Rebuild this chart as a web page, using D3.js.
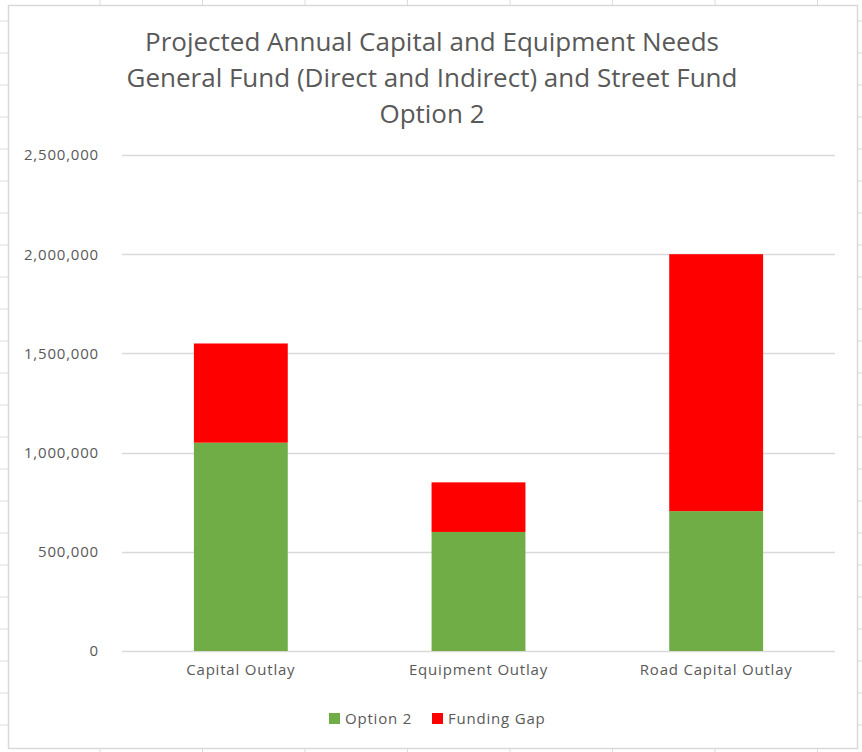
<!DOCTYPE html>
<html>
<head>
<meta charset="utf-8">
<script src="https://cdn.jsdelivr.net/npm/d3@7"></script>
<style>
  html, body { margin: 0; padding: 0; background: #fff; }
  svg { display: block; }
  text { font-family: "Open Sans", "Liberation Sans", sans-serif; fill: #595959; }
</style>
</head>
<body>
<svg id="chart" width="862" height="752"></svg>
<script>
// Chart data
const categories = ["Capital Outlay", "Equipment Outlay", "Road Capital Outlay"];
const option2 = [1050000, 600000, 705000];
const fundingGap = [500000, 250000, 1295000];
const seriesNames = ["Option 2", "Funding Gap"];
const seriesColors = ["#70AD47", "#FF0000"];
const yTicks = [0, 500000, 1000000, 1500000, 2000000, 2500000];
const titleLines = [
  "Projected Annual Capital and Equipment Needs",
  "General Fund (Direct and Indirect) and Street Fund",
  "Option 2"
];

const W = 862, H = 752;
const svg = d3.select("#chart");

// Worksheet cell grid behind the chart object
const sheet = svg.append("g");
const colLines = d3.range(100, W, 102.5);
const rowLines = d3.range(21, H, 32);
sheet.selectAll("line.c").data(colLines).join("line")
  .attr("x1", d => d).attr("x2", d => d).attr("y1", 0).attr("y2", H)
  .attr("stroke", "#dadada").attr("stroke-width", 1);
sheet.selectAll("line.r").data(rowLines).join("line")
  .attr("x1", 0).attr("x2", W).attr("y1", d => d).attr("y2", d => d)
  .attr("stroke", "#dadada").attr("stroke-width", 1);

// Chart area
const box = { x: 8, y: 5, w: 849, h: 743 };
svg.append("rect")
  .attr("x", box.x + 0.5).attr("y", box.y + 0.5)
  .attr("width", box.w).attr("height", box.h)
  .attr("fill", "#fff").attr("stroke", "#d9d9d9").attr("stroke-width", 1.5);

// Title
svg.append("g").selectAll("text").data(titleLines).join("text")
  .attr("x", 432).attr("y", (d, i) => 51 + i * 36)
  .attr("text-anchor", "middle")
  .attr("font-size", 26)
  .text(d => d);

// Plot area
const plot = { left: 122, right: 835, top: 155, bottom: 651 };

const x = d3.scaleBand().domain(categories)
  .range([plot.left, plot.right]).paddingInner(0.605).paddingOuter(0.3025);
const y = d3.scaleLinear().domain([0, 2500000]).range([plot.bottom, plot.top]);

// Gridlines
svg.append("g").selectAll("line").data(yTicks).join("line")
  .attr("x1", plot.left).attr("x2", plot.right)
  .attr("y1", d => Math.round(y(d)) + 0.5).attr("y2", d => Math.round(y(d)) + 0.5)
  .attr("stroke", "#d9d9d9").attr("stroke-width", 1.5);

const labelFont = g => g.selectAll("text")
  .attr("font-size", 15).attr("fill", "#595959")
  .style("font-family", "'Open Sans', sans-serif")
  .style("letter-spacing", "0.8px");

// Y-axis labels
const yAxis = d3.axisLeft(y).tickValues(yTicks).tickSize(0).tickPadding(0)
  .tickFormat(d3.format(",.0f"));
const yg = svg.append("g").attr("transform", `translate(${99},0)`).call(yAxis);
yg.select(".domain").remove();
labelFont(yg);

// Stacked bars
const table = categories.map((c, i) => ({ category: c, "Option 2": option2[i], "Funding Gap": fundingGap[i] }));
const stack = d3.stack().keys(seriesNames)(table);
svg.append("g").selectAll("g").data(stack).join("g")
  .attr("fill", (d, i) => seriesColors[i])
  .selectAll("rect").data(d => d).join("rect")
  .attr("x", d => x(d.data.category))
  .attr("width", x.bandwidth())
  .attr("y", d => y(d[1]))
  .attr("height", d => y(d[0]) - y(d[1]));

// Category axis labels
const xAxis = d3.axisBottom(x).tickSize(0).tickPadding(0);
const xg = svg.append("g").attr("transform", `translate(0,${plot.bottom + 13})`).call(xAxis);
xg.select(".domain").remove();
labelFont(xg);

// Legend
const legendItems = [
  { name: seriesNames[0], color: seriesColors[0], x: 329 },
  { name: seriesNames[1], color: seriesColors[1], x: 432 }
];
const lg = svg.append("g").selectAll("g").data(legendItems).join("g")
  .attr("transform", d => `translate(${d.x},713)`);
lg.append("rect").attr("width", 11).attr("height", 11).attr("fill", d => d.color);
lg.append("text").attr("x", 16).attr("y", 11).attr("font-size", 15)
  .style("letter-spacing", "0.8px").text(d => d.name);
</script>
</body>
</html>
